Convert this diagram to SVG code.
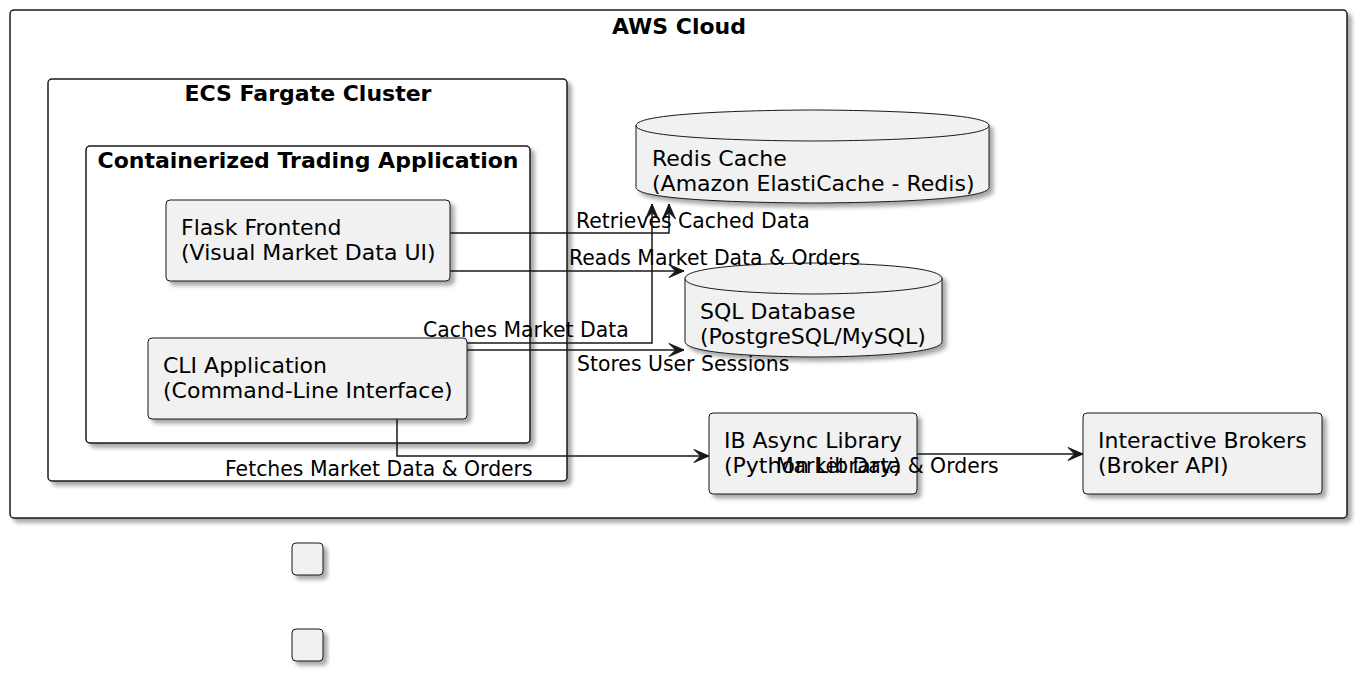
<svg xmlns="http://www.w3.org/2000/svg" width="1365" height="678" viewBox="0 0 1365 678">
<style>
text{font-family:"DejaVu Sans","Noto Sans",sans-serif;fill:#000}
.t{font-size:22px;font-weight:bold;text-anchor:middle}
.n{font-size:22px}
.l{font-size:20.4px}
.frame{fill:#fff;stroke:#181818;stroke-width:1.5}
.node{fill:#F1F1F1;stroke:#181818;stroke-width:1}
.c{fill:none;stroke:#181818;stroke-width:1.5}
</style>
<defs>
<filter id="sh" x="-10%" y="-10%" width="130%" height="140%">
<feDropShadow dx="4" dy="4" stdDeviation="2.2" flood-color="#000" flood-opacity="0.35"/>
</filter>
<marker id="ar" viewBox="-17 -8 18 16" refX="0" refY="0" markerWidth="18" markerHeight="16" markerUnits="userSpaceOnUse" orient="auto">
<path d="M0,0 L-15,-6.5 L-8.5,0 L-15,6.5 Z" fill="#181818" stroke="#181818" stroke-width="1"/>
</marker>
</defs>

<g id="aws-cloud">
<rect class="frame" x="10" y="10" width="1337" height="508" rx="4" filter="url(#sh)"/>
<text class="t" x="679" y="34">AWS Cloud</text>
</g>
<g id="ecs-fargate-cluster">
<rect class="frame" x="48" y="79" width="519" height="402" rx="4" filter="url(#sh)"/>
<text class="t" x="308" y="101">ECS Fargate Cluster</text>
</g>
<g id="containerized-trading-application">
<rect class="frame" x="86" y="146" width="444" height="297" rx="4" filter="url(#sh)"/>
<text class="t" x="308" y="168">Containerized Trading Application</text>
</g>
<g id="flask-frontend">
<rect class="node" x="166" y="200" width="284" height="81" rx="4" filter="url(#sh)"/>
<text class="n" x="181" y="235">Flask Frontend</text>
<text class="n" x="181" y="260">(Visual Market Data UI)</text>
</g>
<g id="cli-application">
<rect class="node" x="148" y="338" width="319" height="81" rx="4" filter="url(#sh)"/>
<text class="n" x="163" y="373">CLI Application</text>
<text class="n" x="163" y="398">(Command-Line Interface)</text>
</g>
<g id="redis-cache">
<path class="node" filter="url(#sh)" d="M636,125.5 C636,110 812.5,110 812.5,110 C812.5,110 989,110 989,125.5 L989,187.5 C989,203 812.5,203 812.5,203 C812.5,203 636,203 636,187.5 Z"/>
<path class="node" style="fill:none" d="M636,125.5 C636,141 812.5,141 812.5,141 C812.5,141 989,141 989,125.5"/>
<text class="n" x="652" y="166">Redis Cache</text>
<text class="n" x="652" y="191">(Amazon ElastiCache - Redis)</text>
</g>
<g id="sql-database">
<path class="node" filter="url(#sh)" d="M685,278.5 C685,263 813.5,263 813.5,263 C813.5,263 942,263 942,278.5 L942,341.5 C942,357 813.5,357 813.5,357 C813.5,357 685,357 685,341.5 Z"/>
<path class="node" style="fill:none" d="M685,278.5 C685,294 813.5,294 813.5,294 C813.5,294 942,294 942,278.5"/>
<text class="n" x="700" y="319">SQL Database</text>
<text class="n" x="700" y="344">(PostgreSQL/MySQL)</text>
</g>
<g id="ib-async-library">
<rect class="node" x="709" y="413" width="208" height="81" rx="4" filter="url(#sh)"/>
<text class="n" x="724" y="448">IB Async Library</text>
<text class="n" x="724" y="473">(Python Library)</text>
</g>
<g id="interactive-brokers">
<rect class="node" x="1083" y="413" width="239" height="81" rx="4" filter="url(#sh)"/>
<text class="n" x="1098" y="448">Interactive Brokers</text>
<text class="n" x="1098" y="473">(Broker API)</text>
</g>
<g id="empty-1">
<rect class="node" x="292" y="543" width="31" height="32" rx="4" filter="url(#sh)"/>
</g>
<g id="empty-2">
<rect class="node" x="292" y="629" width="31" height="32" rx="4" filter="url(#sh)"/>
</g>

<g id="connectors">
<path class="c" marker-end="url(#ar)" d="M450,233 L669,233 L669,204"/>
<text class="l" x="576" y="228">Retrieves Cached Data</text>
<path class="c" marker-end="url(#ar)" d="M450,271 L684,271"/>
<text class="l" x="569" y="265">Reads Market Data &amp; Orders</text>
<path class="c" marker-end="url(#ar)" d="M467,343 L652,343 L652,204"/>
<text class="l" x="423" y="337">Caches Market Data</text>
<path class="c" marker-end="url(#ar)" d="M467,350 L684,350"/>
<text class="l" x="577" y="371">Stores User Sessions</text>
<path class="c" marker-end="url(#ar)" d="M397,419 L397,456 L709,456"/>
<text class="l" x="225" y="476">Fetches Market Data &amp; Orders</text>
<path class="c" marker-end="url(#ar)" d="M917,454 L1083,454"/>
<text class="l" x="776" y="473">Market Data &amp; Orders</text>
</g>
</svg>
